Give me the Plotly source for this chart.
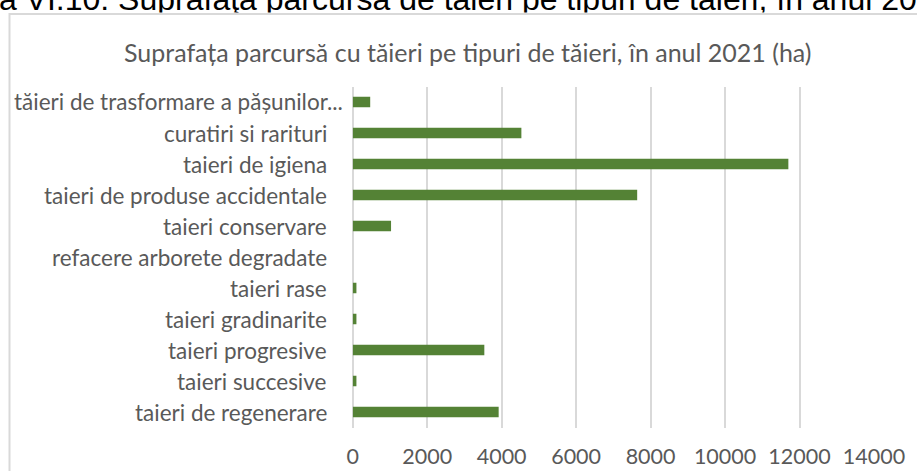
import plotly.graph_objects as go

W, H = 917, 471

categories = [
    "tăieri de trasformare a pășunilor...",
    "curatiri si rarituri",
    "taieri de igiena",
    "taieri de produse accidentale",
    "taieri conservare",
    "refacere arborete degradate",
    "taieri rase",
    "taieri gradinarite",
    "taieri progresive",
    "taieri succesive",
    "taieri de regenerare",
]
values = [470, 4530, 11700, 7640, 1030, 0, 100, 100, 3535, 100, 3920]
x_ticks = [0, 2000, 4000, 6000, 8000, 10000, 12000, 14000]
x_tick_labels = ["0", "2000", "4000", "6000", "8000", "10000", "12000", "14000"]

chart_title = "Suprafața parcursă cu tăieri pe tipuri de tăieri, în anul 2021 (ha)"
caption = "Figura VI.10: Suprafaţa parcursă de tăieri pe tipuri de tăieri, în anul 2021"

FONT = "Lato"
GREY = "#595959"
GRID = "#d9d9d9"

def px_x(p):
    return p / W

def px_y(p):
    return (H - p) / H

fig = go.Figure()

fig.add_trace(go.Bar(
    x=values, y=categories, orientation="h",
    marker=dict(color="#548235", line=dict(width=0)),
    hoverinfo="skip",
))

# caption line of the document, clipped by the chart picture below it
fig.add_trace(go.Scatter(
    x=[-74], y=[2], mode="text", text=[caption],
    textposition="middle right",
    textfont=dict(family="Liberation Sans, Arial", size=32, color="black"),
    xaxis="x2", yaxis="y2", cliponaxis=True, hoverinfo="skip",
))

# category labels (Excel right-aligns them; the truncated one sits further right)
label_anns = []
for i, cat in enumerate(categories):
    right = 345 if cat.endswith("...") else 329
    label_anns.append(dict(
        text=cat, xref="paper", yref="y", x=px_x(right), y=cat,
        xanchor="right", yanchor="middle", showarrow=False,
        font=dict(family=FONT, size=22.5, color=GREY),
    ))

fig.update_layout(
    template="plotly",
    width=W, height=H,
    autosize=False,
    margin=dict(l=0, r=0, t=0, b=0, pad=0, autoexpand=False),
    paper_bgcolor="white", plot_bgcolor="white",
    showlegend=False,
    bargap=0.66,
    font=dict(family=FONT, color=GREY),
    xaxis=dict(
        domain=[px_x(352.7), px_x(874)],
        range=[0, 14000], tickvals=x_ticks, ticktext=x_tick_labels,
        showgrid=True, gridcolor=GRID, gridwidth=1.6,
        zeroline=True, zerolinecolor=GRID, zerolinewidth=1.6,
        showline=False, ticks="", ticklabelstandoff=14,
        tickfont=dict(family=FONT, size=21.5, color=GREY),
        anchor="y", fixedrange=True, automargin=False,
    ),
    yaxis=dict(
        domain=[px_y(427.5), px_y(86.5)],
        type="category", autorange="reversed",
        showgrid=False, zeroline=False, showline=False, ticks="",
        showticklabels=False,
        anchor="x", fixedrange=True, automargin=False,
    ),
    xaxis2=dict(domain=[0, 1], range=[0, W], visible=False, anchor="y2",
                fixedrange=True, automargin=False),
    yaxis2=dict(domain=[px_y(12.5), 1], range=[12.5, 0], visible=False, anchor="x2",
                fixedrange=True, automargin=False),
    shapes=[dict(
        type="rect", xref="paper", yref="paper", layer="below",
        x0=px_x(9.5), x1=1.05, y0=-0.05, y1=px_y(14),
        line=dict(color=GRID, width=2), fillcolor="rgba(0,0,0,0)",
    )],
    annotations=[dict(
        text=chart_title, xref="paper", yref="paper",
        x=px_x(467.5), y=px_y(52), xanchor="center", yanchor="middle",
        showarrow=False, font=dict(family=FONT, size=25, color=GREY),
    )] + label_anns,
)

fig.write_html(
    "out.html",
    config={"displayModeBar": False},
    post_script="document.body.style.margin='0';document.body.style.overflow='hidden';",
)
